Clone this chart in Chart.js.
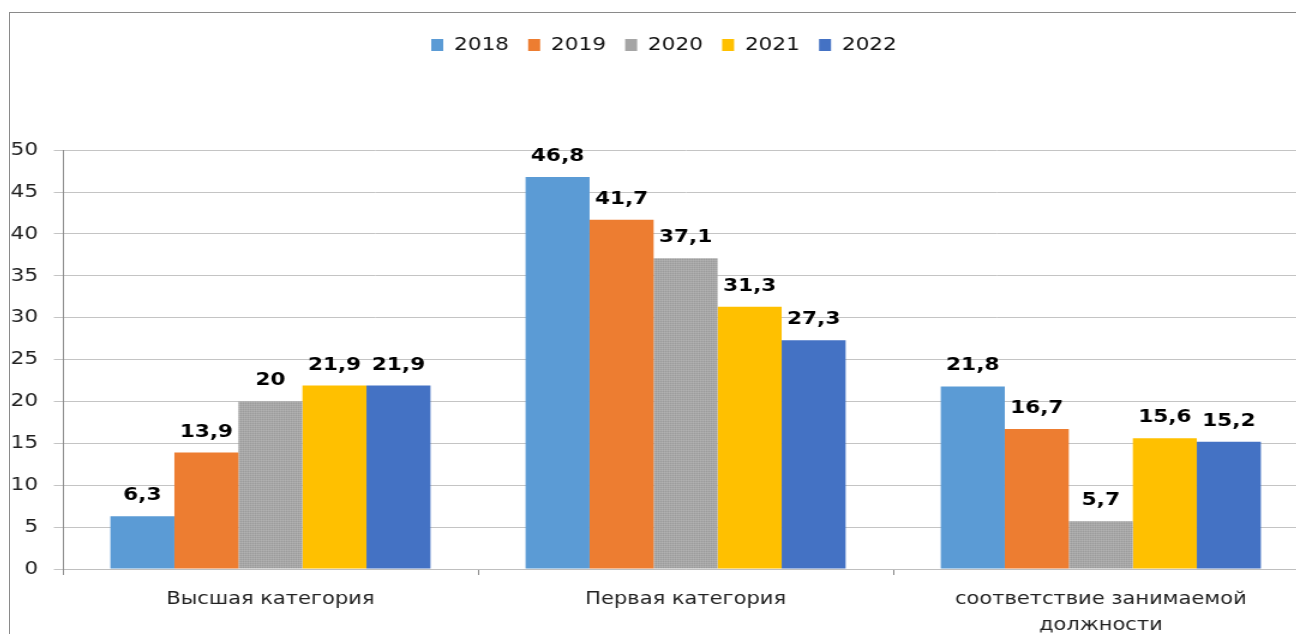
<!DOCTYPE html>
<html>
<head>
<meta charset="utf-8">
<script src="https://cdn.jsdelivr.net/npm/chart.js@4"></script>
<style>
  html, body { margin: 0; padding: 0; background: #fff; overflow: hidden; }
  .frame {
    position: absolute; left: 9px; top: 12px; width: 1320px; height: 700px;
    border-left: 1px solid #8a8a8a; border-top: 1px solid #8a8a8a;
  }
  /* the source picture is stretched sideways, so the chart is too */
  .stretch { width: 1090px; height: 640px; transform: scaleX(1.2); transform-origin: 0 0; }
</style>
</head>
<body>
<div class="frame">
  <div class="stretch">
    <canvas id="chart" width="1090" height="640"></canvas>
  </div>
</div>
<script>
// данные с диаграммы
const categories = ['Высшая категория', 'Первая категория', ['соответствие занимаемой', 'должности']];
const years = ['2018', '2019', '2020', '2021', '2022'];
const values2018 = [6.3, 46.8, 21.8];
const values2019 = [13.9, 41.7, 16.7];
const values2020 = [20, 37.1, 5.7];
const values2021 = [21.9, 31.3, 15.6];
const values2022 = [21.9, 27.3, 15.2];
const yTicks = { min: 0, max: 50, step: 5 };

const FONT = 'DejaVu Sans';

// серый столбец с мелкой текстурой
const makePattern = () => {
    const tile = document.createElement('canvas');
    tile.width = 2; tile.height = 2;
    const t = tile.getContext('2d');
    t.fillStyle = '#a8a8a8';
    t.fillRect(0, 0, 2, 2);
    t.fillStyle = '#9c9c9c';
    t.fillRect(0, 0, 1, 1);
    t.fillStyle = '#b2b2b2';
    t.fillRect(1, 1, 1, 1);
    return document.getElementById('chart').getContext('2d').createPattern(tile, 'repeat');
};

const seriesColors = ['#5B9BD5', '#ED7D31', makePattern(), '#FFC000', '#4472C4'];
const legendColors = ['#5B9BD5', '#ED7D31', '#A5A5A5', '#FFC000', '#4472C4'];
const seriesValues = [values2018, values2019, values2020, values2021, values2022];

// подписи значений над столбцами
const valueLabels = {
    id: 'valueLabels',
    afterLayout(chart) {
        // легенда в оригинале чуть правее центра
        chart.legend.left += 4;
        chart.legend.right += 4;
    },
    afterDatasetsDraw(chart) {
        const ctx = chart.ctx;
        ctx.save();
        ctx.font = `bold 18px "${FONT}"`;
        ctx.fillStyle = '#000';
        ctx.textAlign = 'center';
        ctx.textBaseline = 'alphabetic';
        chart.data.datasets.forEach((ds, i) => {
            chart.getDatasetMeta(i).data.forEach((bar, j) => {
                const txt = String(ds.data[j]).replace('.', ',');
                ctx.fillText(txt, bar.x, bar.y - 16);
            });
        });
        ctx.restore();
    }
};

new Chart(document.getElementById('chart'), {
    type: 'bar',
    data: {
        labels: categories,
        datasets: years.map((y, i) => ({
            label: y,
            data: seriesValues[i],
            backgroundColor: seriesColors[i],
            borderWidth: 0,
            categoryPercentage: 0.771,
            barPercentage: 1
        }))
    },
    options: {
        responsive: false,
        animation: false,
        devicePixelRatio: 1,
        layout: { padding: { top: 7, left: 0, right: 8, bottom: 0 } },
        plugins: {
            legend: {
                position: 'top',
                weight: 3000,
                labels: {
                    boxWidth: 10,
                    boxHeight: 12,
                    padding: 16,
                    color: '#111',
                    font: { family: FONT, size: 18 },
                    generateLabels(chart) {
                        const items = Chart.defaults.plugins.legend.labels.generateLabels(chart);
                        items.forEach((it, i) => { it.fillStyle = legendColors[i]; it.lineWidth = 0; });
                        return items;
                    }
                }
            },
            title: {
                display: true,
                text: '',
                font: { size: 1 },
                padding: { top: 0, bottom: 85 }
            },
            tooltip: { enabled: false }
        },
        scales: {
            x: {
                grid: { drawOnChartArea: false, tickLength: 6, color: '#8a8a8a' },
                border: { display: true, color: '#bfbfbf' },
                ticks: {
                    maxRotation: 0,
                    autoSkip: false,
                    padding: 12,
                    color: '#222',
                    font: { family: FONT, size: 17.5, lineHeight: 1.48 }
                },
                afterFit(scale) { scale.height = 84; }
            },
            y: {
                min: yTicks.min,
                max: yTicks.max,
                grid: { color: '#c4c4c4', tickLength: 7.5 },
                border: { display: true, color: '#8a8a8a' },
                ticks: {
                    stepSize: yTicks.step,
                    padding: 13,
                    color: '#222',
                    font: { family: FONT, size: 18 }
                },
                afterFit(scale) { scale.width = 44; }
            }
        }
    },
    plugins: [valueLabels]
});
</script>
</body>
</html>
